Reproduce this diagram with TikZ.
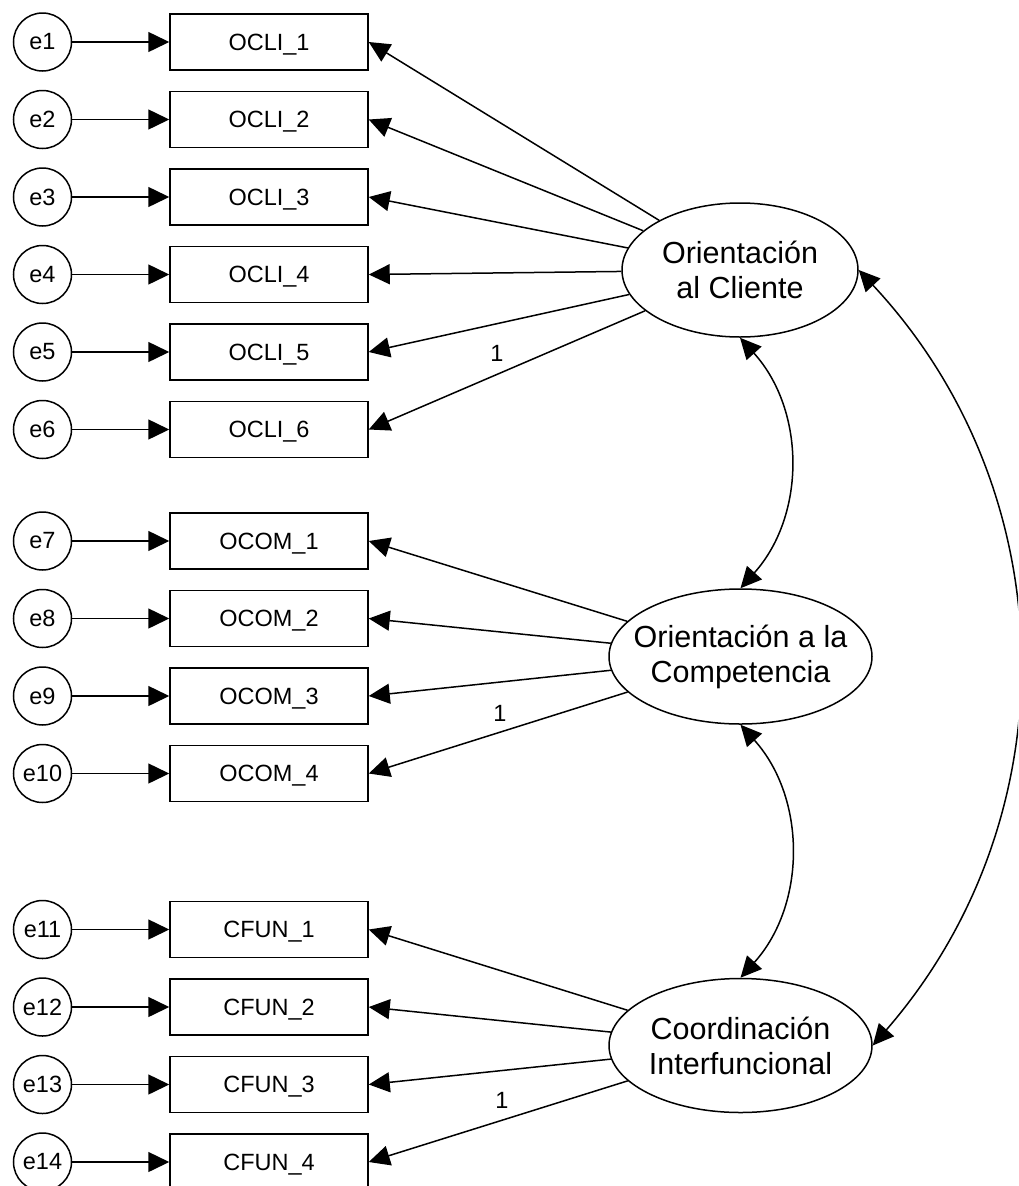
\documentclass[tikz,border=0pt]{standalone}
\usepackage{fontspec}
\setmainfont{Liberation Sans}
\usetikzlibrary{arrows.meta, shapes.geometric}

\begin{document}
\begin{tikzpicture}[x = 1pt, y = -1pt, line width = 1.5pt,
	>={Triangle[length = 21pt, width = 20pt]},
	err/.style = {draw, circle, minimum size = 58pt, inner sep = 0pt, font = \fontsize{23.5}{28}\selectfont},
	obs/.style = {draw, rectangle, minimum width = 198pt, minimum height = 56pt, inner sep = 0pt, text depth = 0pt, font = \fontsize{23.5}{28}\selectfont},
	lat/.style = {draw, ellipse, inner sep = -24pt, align = center, font = \fontsize{30.5}{35}\selectfont},
	lbl/.style = {font = \fontsize{23.5}{28}\selectfont}]
				%	frame setup
				\path[use as bounding box, clip] (0, 0) rectangle (1018, 1186);
				
				%	latent factors
				\node[lat, minimum width = 236pt, minimum height = 134pt] (cli) at (740, 270) {Orientación\\al Cliente};
				\node[lat, minimum width = 263pt, minimum height = 135pt] (com) at (740.5, 656.5) {Orientación a la\\Competencia};
				\node[lat, minimum width = 263pt, minimum height = 134pt] (coo) at (740.5, 1045.5) {Coordinación\\Interfuncional};
				
				%	indicators
				\foreach \i in {1,...,6}{
					\pgfmathsetmacro\y{42 + 77.5*(\i - 1)}
					\node[err] (e\i) at (42.5, \y) {e\i};
					\node[obs] (OCLI\i) at (269, \y) {OCLI\_\i};
					\draw[->] (e\i) -- (OCLI\i);
					\draw[->] (cli) -- (OCLI\i.east);
				}
				\foreach \i in {1,...,4}{
					\pgfmathsetmacro\y{541 + 77.5*(\i - 1)}
					\pgfmathtruncatemacro\k{\i + 6}
					\node[err] (e\k) at (42.5, \y) {e\k};
					\node[obs] (OCOM\i) at (269, \y) {OCOM\_\i};
					\draw[->] (e\k) -- (OCOM\i);
					\draw[->] (com) -- (OCOM\i.east);
				}
				\foreach \i in {1,...,4}{
					\pgfmathsetmacro\y{929.5 + 77.5*(\i - 1)}
					\pgfmathtruncatemacro\k{\i + 10}
					\node[err] (e\k) at (42.5, \y) {e\k};
					\node[obs] (CFUN\i) at (269, \y) {CFUN\_\i};
					\draw[->] (e\k) -- (CFUN\i);
					\draw[->] (coo) -- (CFUN\i.east);
				}
				
				%	fixed loadings
				\node[lbl] (fixcli) at (497, 353) {1};
				\node[lbl] (fixcom) at (500, 713) {1};
				\node[lbl] (fixcoo) at (502, 1100) {1};
				
				%	covariances
				\draw[<->] (cli.south) to[bend left = 42] (com.north);
				\draw[<->] (com.south) to[bend left = 42] (coo.north);
				\draw[<->] (cli.east) to[bend left = 42] (coo.east);
\end{tikzpicture}
\end{document}
